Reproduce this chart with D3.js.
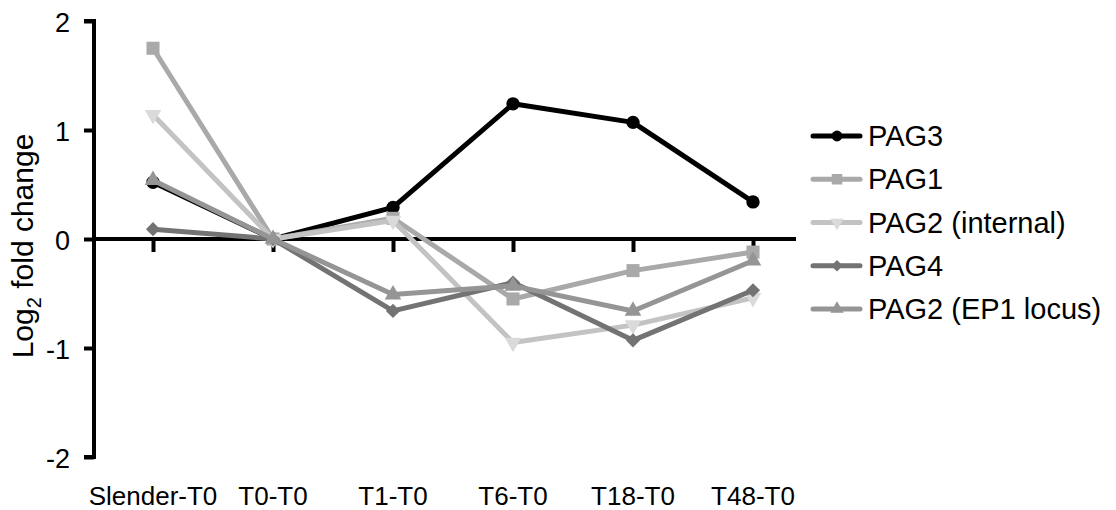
<!DOCTYPE html>
<html>
<head>
<meta charset="utf-8">
<script src="https://cdn.jsdelivr.net/npm/d3@7"></script>
<style>
  body { margin: 0; background: #fff; }
  text { font-family: "Liberation Sans", Arial, sans-serif; fill: #000; }
</style>
</head>
<body>
<svg id="chart" width="1116" height="510"></svg>
<script>
// categories and series values (log2 fold change vs T0)
const categories = ['Slender-T0', 'T0-T0', 'T1-T0', 'T6-T0', 'T18-T0', 'T48-T0'];
const yTicks = [-2, -1, 0, 1, 2];

const pag3 = [0.52, 0, 0.29, 1.24, 1.07, 0.34];
const pag1 = [1.75, 0, 0.19, -0.55, -0.29, -0.12];
const pag2Internal = [1.14, 0, 0.17, -0.95, -0.79, -0.54];
const pag4 = [0.09, 0, -0.66, -0.40, -0.93, -0.47];
const pag2Ep1 = [0.54, 0, -0.51, -0.43, -0.66, -0.20];

const seriesNames = ['PAG3', 'PAG1', 'PAG2 (internal)', 'PAG4', 'PAG2 (EP1 locus)'];

// styling per series (kept apart from the data)
const styles = [
  { line: '#000000', fill: '#000000', symbol: d3.symbolCircle, size: 140, rotate: 0 },
  { line: '#a9a9a9', fill: '#a9a9a9', symbol: d3.symbolSquare, size: 170, rotate: 0 },
  { line: '#c3c3c3', fill: '#dadada', symbol: d3.symbolTriangle, size: 120, rotate: 180 },
  { line: '#737373', fill: '#737373', symbol: d3.symbolSquare, size: 100, rotate: 45 },
  { line: '#959595', fill: '#959595', symbol: d3.symbolTriangle, size: 120, rotate: 0 }
];

const seriesValues = [pag3, pag1, pag2Internal, pag4, pag2Ep1];
const series = seriesNames.map((name, i) => ({
  name: name,
  style: styles[i],
  points: categories.map((c, j) => ({ cat: c, value: seriesValues[i][j] }))
}));

const svg = d3.select('#chart');

const x = d3.scalePoint().domain(categories).range([153, 753]);
const y = d3.scaleLinear().domain([-2, 2]).range([457, 21]);

// y axis
const yAxis = svg.append('g')
  .attr('transform', 'translate(94,0)')
  .call(d3.axisLeft(y).tickValues(yTicks).tickSize(10).tickPadding(14).tickFormat(d3.format('d')));
yAxis.select('.domain').attr('d', `M-10,${y(2)}H0V${y(-2)}H-10`)
  .attr('stroke', '#000').attr('stroke-width', 4).attr('fill', 'none');
yAxis.selectAll('.tick line').attr('stroke', '#000').attr('stroke-width', 4);
yAxis.selectAll('.tick text').attr('font-size', 27).attr('dy', '0.4em')
  .style('font-family', '"Liberation Sans", Arial, sans-serif')
  .text(d => d < 0 ? '-' + Math.abs(d) : d);

// x axis at zero
const xAxis = svg.append('g')
  .attr('transform', `translate(0,${y(0)})`)
  .call(d3.axisBottom(x).tickSize(13).tickFormat(''));
xAxis.select('.domain').attr('d', 'M92,0H796')
  .attr('stroke', '#000').attr('stroke-width', 4);
xAxis.selectAll('.tick line').attr('stroke', '#000').attr('stroke-width', 4);

// category labels along the bottom
svg.append('g').selectAll('text')
  .data(categories)
  .join('text')
  .attr('x', d => x(d))
  .attr('y', 505)
  .attr('text-anchor', 'middle')
  .attr('font-size', 26)
  .text(d => d);

// y axis title
const title = svg.append('text')
  .attr('transform', 'translate(33,246) rotate(-90)')
  .attr('text-anchor', 'middle')
  .attr('font-size', 30);
title.append('tspan').text('Log');
title.append('tspan').attr('dy', 8).attr('font-size', 20).text('2');
title.append('tspan').attr('dy', -8).text(' fold change');

const line = d3.line().x(d => x(d.cat)).y(d => y(d.value));

function symbolPath(st) {
  return d3.symbol().type(st.symbol).size(st.size)();
}

// later legend entries are drawn on top, as in the original
series.forEach(s => {
  const g = svg.append('g');
  g.append('path')
    .datum(s.points)
    .attr('d', line)
    .attr('fill', 'none')
    .attr('stroke', s.style.line)
    .attr('stroke-width', 5)
    .attr('stroke-linejoin', 'round');
  g.selectAll('path.mark')
    .data(s.points)
    .join('path')
    .attr('class', 'mark')
    .attr('d', symbolPath(s.style))
    .attr('transform', d => `translate(${x(d.cat)},${y(d.value)}) rotate(${s.style.rotate})`)
    .attr('fill', s.style.fill);
});

// legend
const legend = svg.append('g');
const rowY = d3.scalePoint().domain(seriesNames).range([136, 309]);
series.forEach(s => {
  const ly = rowY(s.name);
  legend.append('line')
    .attr('x1', 813).attr('x2', 860).attr('y1', ly).attr('y2', ly)
    .attr('stroke', s.style.line).attr('stroke-width', 5).attr('stroke-linecap', 'round');
  legend.append('path')
    .attr('d', d3.symbol().type(s.style.symbol).size(s.style.size * 0.65)())
    .attr('transform', `translate(837,${ly}) rotate(${s.style.rotate})`)
    .attr('fill', s.style.fill);
  legend.append('text')
    .attr('x', 868).attr('y', ly + 10)
    .attr('font-size', 29)
    .text(s.name);
});
</script>
</body>
</html>
